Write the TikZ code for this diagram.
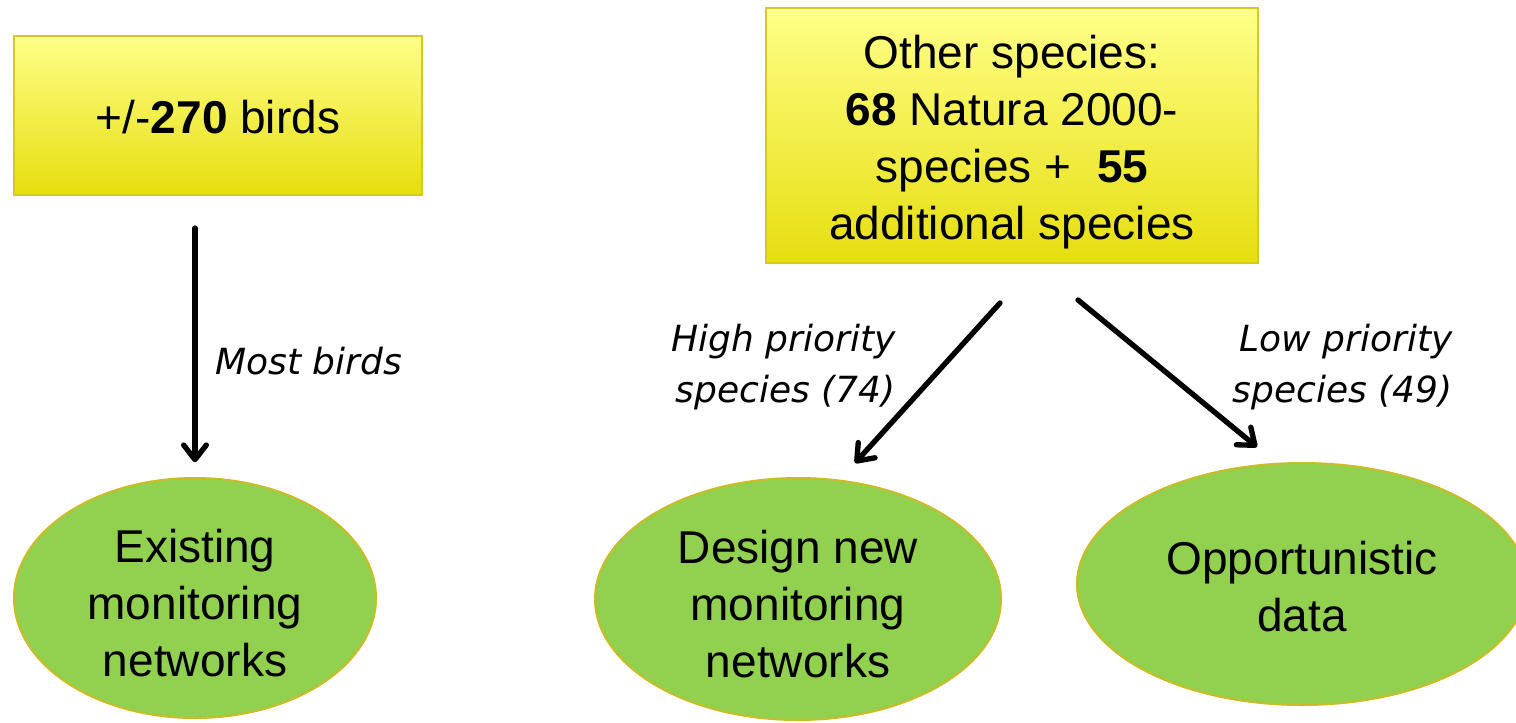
\documentclass[tikz,border=0pt]{standalone}
\usepackage{fontspec}
\setmainfont{Liberation Sans}
\newfontfamily\labelfont{DejaVu Sans}
\usetikzlibrary{shapes.geometric,arrows.meta,calc}

\definecolor{boxtop}{HTML}{FFFF88}
\definecolor{boxbottom}{HTML}{E6DE0E}
\definecolor{boxedge}{HTML}{D6CA22}
\definecolor{leaf}{HTML}{92D050}
\definecolor{leafedge}{HTML}{C9BC24}

\tikzset{
  x=0.75pt, y=-0.75pt,
  maintext/.style={font=\fontsize{34.5pt}{42.75pt}\selectfont, align=center, inner sep=0pt},
  sourcebox/.style={rectangle, draw=boxedge, line width=1.5pt,
    top color=boxtop, bottom color=boxbottom, inner sep=0pt},
  target/.style={ellipse, draw=leafedge, line width=1.5pt, fill=leaf,
    inner sep=0pt},
  flow/.style={line width=4pt, line cap=round,
    -{Straight Barb[length=11pt,width=17pt,line cap=round,line join=round]}},
  edgelabel/.style={font=\labelfont\itshape\fontsize{27pt}{38pt}\selectfont,
    inner sep=0pt}
}

\begin{document}
\begin{tikzpicture}
  \useasboundingbox (0,0) rectangle (1516,722);
  \clip (0,0) rectangle (1516,722);

  % source boxes
  \node[sourcebox, minimum width=306pt, minimum height=119.25pt]
    (birds) at (218,115.5) {};
  \node[maintext] (birdsText) at ($(birds)+(0,2)$) {+/-\textbf{270} birds};
  \node[sourcebox, minimum width=369pt, minimum height=191.25pt]
    (other) at (1012,135.5) {};
  \node[maintext] (otherText) at ($(other)+(0,7)$)
    {Other species:\\\textbf{68} Natura 2000-\\species +\ \ \textbf{55}\\additional species};

  % outcome ellipses
  \node[target, minimum width=271.5pt, minimum height=180pt]
    (existing) at (195,598) {};
  \node[maintext] (existingText) at ($(existing)+(0,5)$) {Existing\\monitoring\\networks};
  \node[target, minimum width=304.5pt, minimum height=181.5pt]
    (design) at (798,599) {};
  \node[maintext] (designText) at ($(design)+(0,5)$) {Design new\\monitoring\\networks};
  \node[target, minimum width=337.5pt, minimum height=181.5pt]
    (opport) at (1302,584) {};
  \node[maintext] (opportText) at ($(opport)+(0,3)$) {Opportunistic\\data};

  % arrow end points in the gaps between boxes and ellipses
  \coordinate (hiStart) at (1000,303);
  \coordinate (hiEnd)   at (855,463);
  \coordinate (loStart) at (1078,300);
  \coordinate (loEnd)   at (1257,447);

  % connectors
  \draw[flow, shorten <=24pt, shorten >=11pt] (birds.south -| existing) -- (existing.north);
  \draw[flow] (hiStart) -- (hiEnd);
  \draw[flow] (loStart) -- (loEnd);

  % connector labels
  \node[edgelabel, anchor=west] (mostlbl) at (215,361) {Most birds};
  \node[edgelabel, anchor=east, align=right] (hilbl) at (896,367)
    {High priority\\species (74)};
  \node[edgelabel, anchor=east, align=right] (lolbl) at (1453,367)
    {Low priority\\species (49)};
\end{tikzpicture}
\end{document}
